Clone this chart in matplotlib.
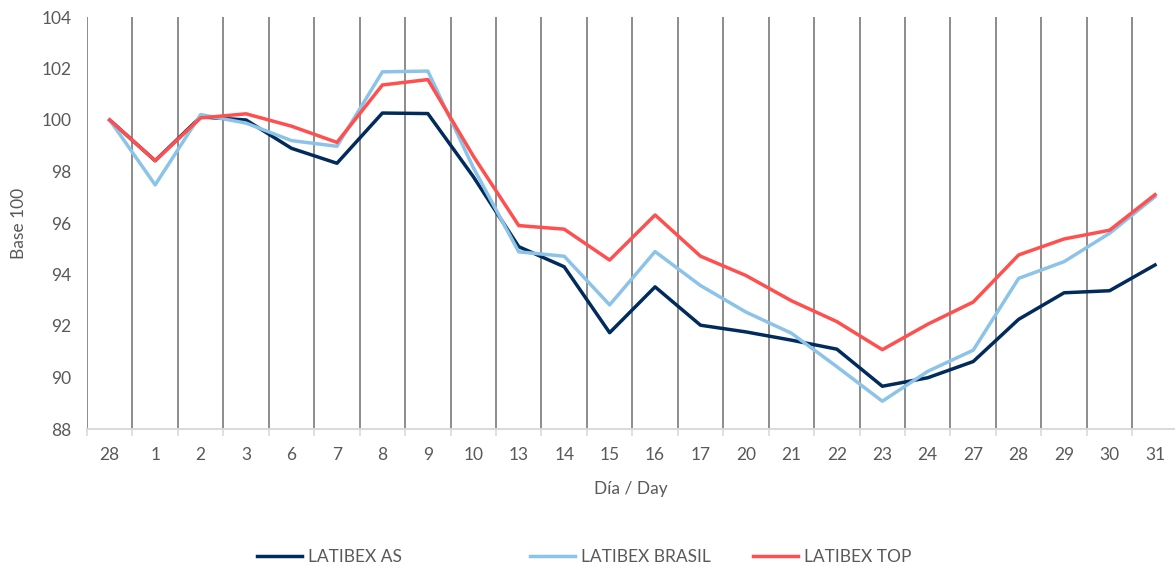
import matplotlib
matplotlib.use("Agg")
import matplotlib.pyplot as plt
import numpy as np

days = ["28", "1", "2", "3", "6", "7", "8", "9", "10", "13", "14", "15", "16",
        "17", "20", "21", "22", "23", "24", "27", "28", "29", "30", "31"]

latibex_as = [100.0, 98.42, 100.12, 100.0, 98.9, 98.32, 100.27, 100.25, 97.8,
              95.08, 94.3, 91.74, 93.52, 92.03, 91.77, 91.45, 91.1, 89.66,
              89.99, 90.62, 92.26, 93.29, 93.37, 94.37]
latibex_brasil = [100.0, 97.48, 100.21, 99.88, 99.2, 98.98, 101.87, 101.9, 98.15,
                  94.88, 94.71, 92.82, 94.89, 93.57, 92.54, 91.72, 90.42, 89.08,
                  90.24, 91.06, 93.85, 94.5, 95.6, 97.02]
latibex_top = [100.0, 98.42, 100.08, 100.24, 99.76, 99.13, 101.36, 101.57, 98.6,
               95.9, 95.76, 94.56, 96.31, 94.71, 93.96, 92.98, 92.17, 91.08,
               92.07, 92.93, 94.76, 95.38, 95.72, 97.1]

series = [("LATIBEX AS", latibex_as, "#002B5C"),
          ("LATIBEX BRASIL", latibex_brasil, "#8CC3E8"),
          ("LATIBEX TOP", latibex_top, "#FF4F4F")]

plt.rcParams['font.family'] = ['Lato', 'DejaVu Sans']
txt = "#595959"
fs = 12.5

fig = plt.figure(figsize=(11.75, 5.66), dpi=100)
ax = fig.add_axes([87 / 1175, 1 - 429 / 566, 1 - 87 / 1175, (429 - 17) / 566])

x = np.arange(len(days))
for i in range(len(days) - 1):
    ax.axvline(i - 0.5, color="#8C8C8C", lw=1.4, zorder=1)
ax.axvline(len(days) - 1.5, color="#8C8C8C", lw=1.4, zorder=1)

lines = []
for name, vals, col in series:
    ln, = ax.plot(x, vals, color=col, lw=2.5, label=name, zorder=3)
    lines.append(ln)

ax.set_xlim(-0.5, 23.44)
ax.set_ylim(88, 104)
ax.set_yticks(np.arange(88, 105, 2))
ax.set_xticks(x)
ax.set_xticklabels(days)
ax.set_xticks(np.arange(-0.5, 23, 1), minor=True)

for s in ["top", "right", "left"]:
    ax.spines[s].set_visible(False)
ax.spines["bottom"].set_color("#D9D9D9")
ax.spines["bottom"].set_linewidth(1.4)

ax.tick_params(axis="x", which="major", length=0, pad=13, labelsize=fs, labelcolor=txt)
ax.tick_params(axis="x", which="minor", length=5, width=1.2, color="#D9D9D9")
ax.tick_params(axis="y", length=0, pad=11, labelsize=fs, labelcolor=txt)

ax.set_xlabel("Día / Day", fontsize=fs, color=txt, labelpad=13)
ax.set_ylabel("Base 100", fontsize=fs, color=txt)
ax.yaxis.set_label_coords(-0.055, 0.5)

legend_x = [257, 530, 753]
for ln, lx in zip(lines, legend_x):
    lg = fig.legend(handles=[ln], loc="center left",
                    bbox_to_anchor=(lx / 1175, 1 - 557 / 566),
                    frameon=False, fontsize=fs, labelcolor=txt,
                    handlelength=2.6, handletextpad=0.35, borderpad=0,
                    borderaxespad=0)

fig.savefig("out.png", dpi=100)
